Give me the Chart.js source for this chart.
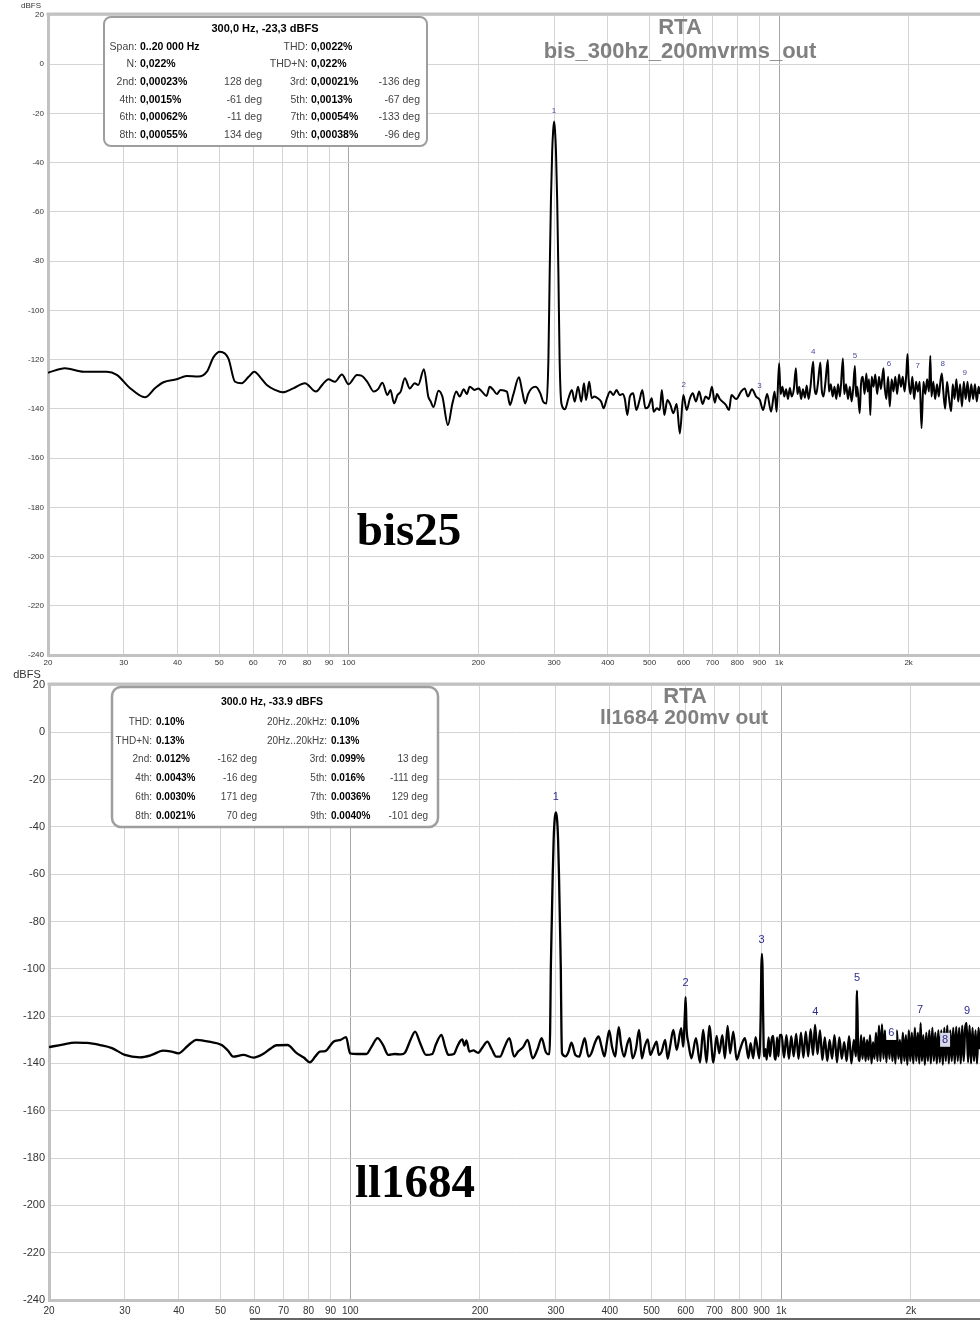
<!DOCTYPE html>
<html>
<head>
<title>RTA bis25 vs ll1684</title>
<script src="https://cdn.jsdelivr.net/npm/chart.js"></script>
<style>
  body { margin: 0; background: #fff; }
  #wrap { position: relative; width: 980px; height: 1322px; overflow: hidden; }
  canvas { position: absolute; left: 0; }
</style>
</head>
<body>
<div id="wrap">
  <canvas id="bisChart" width="980" height="670" style="top:0"></canvas>
  <canvas id="llChart" width="980" height="652" style="top:670px"></canvas>
</div>

<script>
// ---- axis ticks ----
const xTickValues = [20, 30, 40, 50, 60, 70, 80, 90, 100, 200, 300, 400, 500, 600, 700, 800, 900, 1000, 2000];
const xTickLabels = ['20', '30', '40', '50', '60', '70', '80', '90', '100', '200', '300', '400', '500', '600', '700', '800', '900', '1k', '2k'];

// ---- bis25 spectrum (Hz / dBFS) ----
const bisFreqHz = [
  20, 21.9, 24.2, 27.4, 28.9, 31, 33.6, 35.5, 37.1, 39.8, 42, 44.7, 46.8, 48.5, 50.2, 52.5, 54.4, 56.4, 58.5, 60.3,
  62.5, 64.5, 67.4, 70.2, 74.3, 79.1, 83.9, 87, 89.7, 92.9, 96.4, 99.9, 104.5, 107, 110.4, 114.4, 117, 119.7, 123, 125,
  127.4, 129.8, 132, 135, 138.6, 142.3, 145, 149.5, 153, 155, 157.3, 161.6, 165, 170, 174, 177.8, 181, 185, 188, 191,
  196, 200, 204, 209, 212.5, 216.7, 221, 225, 233, 237, 241, 248.6, 253, 257, 261, 266, 272, 278.7, 283, 288,
  291, 293, 295, 297, 298.5, 300, 301.5, 303, 305, 307, 309,
  312, 318, 324, 330, 335, 341, 347, 352, 356, 362, 367, 372, 379, 386, 391, 398, 405, 412, 419, 426,
  433, 438, 444, 450, 458, 466, 474, 481, 489, 497, 506, 511, 520, 528, 534, 541, 550, 559, 568, 578,
  588, 599, 610, 620, 630, 641, 652, 664, 675, 687, 698, 709, 717, 728, 752, 765, 775, 795, 816, 832,
  846, 865, 884, 902, 918, 938, 958, 976, 987,
  1000, 1008, 1018, 1028, 1038, 1049, 1059, 1070, 1082, 1094,
  1103, 1114, 1125, 1136, 1148, 1159, 1171, 1183, 1200, 1208,
  1220, 1232, 1247, 1256, 1268, 1280, 1298, 1306, 1319, 1332,
  1345, 1358, 1371, 1385, 1407, 1417, 1431, 1446, 1460, 1474,
  1486, 1500, 1510, 1520, 1539, 1550, 1565, 1580, 1595, 1606,
  1618, 1629, 1641, 1657, 1673, 1690, 1707, 1724, 1748, 1757,
  1775, 1792, 1808, 1826, 1844, 1862, 1881, 1900, 1919, 1938,
  1957, 1975, 1988, 2000, 2020, 2040, 2060, 2081, 2101, 2122,
  2143, 2165, 2186, 2208, 2230, 2246, 2260, 2282, 2305, 2328,
  2351, 2370, 2389, 2408, 2432, 2456, 2480, 2511, 2532, 2557,
  2582, 2608, 2634, 2660, 2687, 2714, 2741, 2768, 2796, 2824,
  2852, 2880, 2908, 2930
];
const bisLevelDb = [
  -125.3, -123.5, -124.9, -124.9, -126.2, -131.5, -135.3, -131.5, -129.2, -128, -126.7, -126.9, -124.9, -119, -116.8, -119.5, -129, -129.6, -127, -124.9,
  -127.5, -130.3, -132.3, -133.3, -131.7, -129.6, -133, -130, -128, -129, -126, -130, -126.2, -126.5, -129, -133, -132, -129.4, -134.4, -132.3,
  -137.8, -134.4, -133, -127.6, -131.7, -129.6, -130.3, -123.9, -135, -137, -139.3, -132.6, -135, -146.6, -138, -133, -135, -132, -134, -131,
  -132.3, -131.7, -133, -134.8, -131, -132.3, -134, -132.3, -133, -138.4, -134.4, -127.2, -133, -137.8, -134, -131.7, -131, -133.7, -137.1, -137.8,
  -120, -85, -55, -35, -27, -23.3, -27, -35, -55, -85, -120,
  -137.8, -140.2, -135.7, -132.3, -137.1, -131, -137.1, -129.6, -136.4, -129, -135.7, -135, -135.7, -137.1, -139.8, -135.7, -133, -134.4, -132.3, -134.4,
  -134, -136, -142.5, -135, -133.7, -140.5, -136.4, -132.3, -139.8, -139.1, -135.7, -141.2, -139.8, -140.5, -132.3, -142.5, -136.4, -138.4, -141.8, -138,
  -150, -134.4, -140.5, -136, -133.7, -137, -133, -138, -135, -136, -131, -137.5, -134, -136, -138.4, -140.5, -134.4, -136, -133, -131.7,
  -135, -132, -135, -136.4, -140.5, -134, -141.2, -133, -141.2,
  -121.5, -134, -131, -135, -132, -136, -131.5, -135, -132, -123.5,
  -134, -131, -136, -132, -135.5, -130.5, -136, -131, -120.8, -131,
  -134, -129, -121.2, -132, -135, -130, -120.2, -133, -130, -135,
  -131, -136, -130, -135, -119.5, -134, -130, -136, -131, -137,
  -132, -122.6, -135, -131, -141.8, -130, -127, -134, -125.6, -133,
  -128, -142.5, -127, -131, -126, -134, -127, -132, -123.5, -130,
  -136, -127, -139, -128, -133, -127, -134, -126, -131, -127,
  -133, -126, -117.7, -128, -134, -127, -136, -129, -133, -129,
  -147.9, -129, -134, -128, -133, -118.5, -135, -129, -136, -130,
  -135, -129, -125.6, -133, -140, -129, -135, -141, -130, -136,
  -128, -137, -130, -139, -129, -136, -129, -137, -130, -136,
  -130, -137, -131, -134
];

// ---- ll1684 spectrum (Hz / dBFS) ----
const llFreqHz = [
  20, 21.5, 23, 24.5, 26.3, 28, 30, 32.5, 34.5, 36.8, 38.5, 39.9, 42, 44, 45.5, 47, 50.3, 52, 53.5, 56.5,
  59.6, 63, 65, 67.4, 71.5, 75, 78, 80.6, 83, 85, 87.5, 91.4, 95, 97.8, 99.9, 104, 109, 112, 115.7, 119,
  122.6, 127, 131, 134, 138, 141.4, 145, 150, 155, 158, 162.8, 166, 169, 174, 177, 180, 182, 184, 186, 189,
  193, 198, 203, 208, 213, 218, 222.6, 228, 234, 240, 245, 252, 258, 265, 272, 278, 284, 287,
  290, 291, 292, 293.5, 295, 296.5, 298, 300, 302, 303.5, 305, 306.5, 308, 309, 310,
  316, 321, 326, 333, 340, 345, 350, 357, 362, 370, 377, 383, 389, 394, 399, 405, 412, 416, 420, 425,
  432, 439, 445, 452, 460, 468, 475, 482, 490, 497, 504, 514, 520, 528, 538, 545, 552, 562, 572, 586,
  592, 598, 600, 603, 609, 619, 634, 648, 659, 671, 681, 696, 708, 718, 730, 740, 751, 761, 774, 788,
  802, 813, 824, 839, 849, 861, 872, 889, 896, 899, 902, 905, 908, 912, 920, 925, 935, 942, 950, 958,
  965, 971, 978, 985, 993, 1002, 1015, 1028, 1042, 1055, 1069, 1083, 1097, 1111, 1126, 1140, 1155, 1170, 1185, 1198,
  1214, 1230, 1246, 1262, 1279, 1295, 1312, 1329, 1347, 1364, 1382, 1400, 1418, 1437, 1455, 1474, 1490, 1499,
  1508, 1520, 1532, 1544, 1557, 1569, 1582, 1594, 1607, 1620,
  1633, 1646, 1659, 1672, 1686, 1699, 1713, 1727, 1740, 1754,
  1768, 1783, 1797, 1811, 1826, 1840, 1855, 1870, 1885, 1900,
  1915, 1931, 1946, 1962, 1977, 1993, 2009, 2025, 2042, 2058,
  2075, 2091, 2106, 2120, 2137, 2154, 2171, 2189, 2206, 2224,
  2242, 2260, 2278, 2296, 2315, 2333, 2352, 2371, 2390, 2409,
  2428, 2448, 2467, 2487, 2507, 2527, 2547, 2568, 2588, 2609,
  2630, 2651, 2672, 2692, 2713, 2735, 2757, 2779, 2801, 2824,
  2846, 2869, 2892
];
const llLevelDb = [
  -133.1, -132, -131.2, -131.3, -132.2, -133.5, -136.4, -137.4, -136.5, -134.6, -135, -135.7, -132.5, -130, -130.3, -130.8, -132.2, -134.5, -137.1, -136.4,
  -137.5, -135.8, -134, -132.3, -132.2, -135.5, -137.5, -139.5, -137, -135, -134.8, -130.8, -130, -128.9, -135.7, -136, -136, -133, -129.3, -132,
  -136.4, -136, -136.2, -135.4, -130, -126.5, -131, -136.4, -136, -132, -127.9, -133, -136.4, -136, -133, -130.5, -129.8, -132.5, -130.3, -135,
  -134.5, -135.5, -133, -130.8, -134, -137.1, -137.1, -133, -129.3, -137.1, -135, -133, -130, -137.8, -134, -129.3, -135, -136,
  -136, -125, -100, -80, -60, -45, -37, -33.9, -37, -45, -60, -80, -100, -125, -135.7,
  -137, -135, -131.2, -136.4, -137.1, -133, -129.3, -137.1, -136, -131, -128.6, -133, -137, -131, -126.1, -133, -137.1, -130, -124.7, -132,
  -137.1, -132, -129.3, -137.8, -134, -125.8, -137.8, -133, -129.8, -136.4, -134, -130.8, -136.4, -135, -130, -138, -133, -125.8, -134.3, -125.1,
  -132.9, -118, -112, -125, -131.4, -137.8, -129.3, -139.6, -125.8, -139.6, -124.1, -139.6, -128.4, -135.7, -128, -137.8, -124.1, -135.7, -126.5, -138.4,
  -134.3, -131, -129.3, -137.8, -131.4, -137.8, -128.9, -137.8, -120, -100, -93.7, -100, -120, -137, -134, -138.4, -129, -137, -130, -128.4,
  -137, -138.4, -129, -137, -128, -127.9, -137.5, -128, -138, -128.5, -137, -127.5, -138, -127, -137.5, -126.5, -137, -125.5, -136.5, -123.7,
  -136, -126, -138.5, -129, -139, -130, -138, -128, -139.5, -129, -138, -131, -139, -128.5, -140, -130, -137, -109.2,
  -134, -139, -128, -138, -129, -139, -130, -138.5, -128, -140,
  -131, -138, -127, -139, -124, -139, -123.5, -138, -126, -139.5,
  -127, -138, -125, -139, -128, -140, -126, -138, -130, -140,
  -127, -139, -128, -140.5, -126, -139, -127, -140, -125, -139,
  -127, -140, -123, -139, -128, -140.5, -127, -139, -126, -140,
  -125, -139, -127, -140, -126, -139.5, -126, -140.5, -125, -139,
  -124, -140, -126, -139, -125, -140, -124.5, -139, -125, -140,
  -124, -139, -125, -123, -139.5, -124, -140, -125, -139, -126,
  -140, -125, -134
];

// ---- harmonic markers ----
const harmonicFreqs = [300, 600, 900, 1200, 1500, 1800, 2100, 2400, 2700];
const harmonicNames = ['1', '2', '3', '4', '5', '6', '7', '8', '9'];
const bisMarkerDb = [-19, -130.3, -130.7, -116.9, -118.5, -121.8, -122.6, -121.8, -125.4];
const llMarkerDb = [-27.3, -106, -87.8, -118.2, -103.8, -127.1, -117.4, -130, -117.8];

// ---- captions ----
const bisName = 'bis25';
const bisSubtitle = 'bis_300hz_200mvrms_out';
const llName = 'll1684';
const llSubtitle = 'll1684 200mv out';
const rtaTitle = 'RTA';
const unitLabel = 'dBFS';

// ---- distortion readouts ----
const bisInfoTitle = '300,0 Hz, -23,3 dBFS';
const bisInfoRows = [
  ['Span:', '0..20 000 Hz', '', 'THD:', '0,0022%', ''],
  ['N:', '0,022%', '', 'THD+N:', '0,022%', ''],
  ['2nd:', '0,00023%', '128 deg', '3rd:', '0,00021%', '-136 deg'],
  ['4th:', '0,0015%', '-61 deg', '5th:', '0,0013%', '-67 deg'],
  ['6th:', '0,00062%', '-11 deg', '7th:', '0,00054%', '-133 deg'],
  ['8th:', '0,00055%', '134 deg', '9th:', '0,00038%', '-96 deg']
];
const llInfoTitle = '300.0 Hz, -33.9 dBFS';
const llInfoRows = [
  ['THD:', '0.10%', '', '20Hz..20kHz:', '0.10%', ''],
  ['THD+N:', '0.13%', '', '20Hz..20kHz:', '0.13%', ''],
  ['2nd:', '0.012%', '-162 deg', '3rd:', '0.099%', '13 deg'],
  ['4th:', '0.0043%', '-16 deg', '5th:', '0.016%', '-111 deg'],
  ['6th:', '0.0030%', '171 deg', '7th:', '0.0036%', '129 deg'],
  ['8th:', '0.0021%', '70 deg', '9th:', '0.0040%', '-101 deg']
];

const sans = '"Liberation Sans", Arial, sans-serif';
const serif = '"Liberation Serif", "Times New Roman", serif';

function drawInfo(ctx, b) {
  ctx.save();
  ctx.beginPath();
  ctx.roundRect(b.x, b.y, b.w, b.h, b.r);
  ctx.fillStyle = '#fff';
  ctx.fill();
  ctx.lineWidth = b.lw;
  ctx.strokeStyle = '#9e9e9e';
  ctx.stroke();
  ctx.textBaseline = 'middle';
  ctx.textAlign = 'center';
  ctx.fillStyle = '#000';
  ctx.font = 'bold ' + b.titleSize + 'px ' + sans;
  ctx.fillText(b.title, b.titleX, b.titleY);
  b.rows.forEach((row, i) => {
    const y = b.rowY[i];
    [[0, 1, 2, b.c1], [3, 4, 5, b.c2]].forEach(([l, v, d, col]) => {
      ctx.font = b.size + 'px ' + sans;
      ctx.fillStyle = '#444';
      ctx.textAlign = 'right';
      ctx.fillText(row[l], col.label, y);
      if (row[d]) ctx.fillText(row[d], col.deg, y);
      ctx.font = 'bold ' + b.size + 'px ' + sans;
      ctx.fillStyle = '#000';
      ctx.textAlign = 'left';
      ctx.fillText(row[v], col.label + b.gap, y);
    });
  });
  ctx.restore();
}

function overlay(cfg) {
  return {
    id: 'overlay',
    afterDatasetsDraw(chart) {
      const ctx = chart.ctx, xs = chart.scales.x, ys = chart.scales.y, a = chart.chartArea;
      ctx.save();
      // top frame line
      ctx.strokeStyle = '#c2c2c2';
      ctx.lineWidth = 3;
      ctx.beginPath();
      ctx.moveTo(a.left - 1.5, a.top - 1);
      ctx.lineTo(a.right, a.top - 1);
      ctx.stroke();

      // harmonic numbers
      ctx.font = cfg.markSize + 'px ' + sans;
      ctx.textAlign = 'center';
      ctx.textBaseline = 'middle';
      harmonicFreqs.forEach((f, i) => {
        const x = xs.getPixelForValue(f), y = ys.getPixelForValue(cfg.markDb[i]);
        if (cfg.markBg && cfg.markBg[i]) {
          ctx.fillStyle = cfg.markBg[i];
          ctx.fillRect(x - 5, y - 7, 10, 14);
        }
        ctx.fillStyle = cfg.markColor;
        ctx.fillText(harmonicNames[i], x, y);
      });

      // titles
      ctx.fillStyle = '#808080';
      ctx.font = 'bold 22px ' + sans;
      ctx.fillText(rtaTitle, cfg.rtaX, cfg.rtaY);
      ctx.font = 'bold ' + cfg.subSize + 'px ' + sans;
      ctx.fillText(cfg.subtitle, cfg.subX, cfg.subY);

      // big name
      ctx.fillStyle = '#000';
      ctx.font = 'bold 47px ' + serif;
      ctx.fillText(cfg.name, cfg.nameX, cfg.nameY);

      // unit label
      ctx.fillStyle = '#333';
      ctx.font = cfg.unitSize + 'px ' + sans;
      ctx.fillText(unitLabel, cfg.unitX, cfg.unitY);

      drawInfo(ctx, cfg.info);

      if (cfg.footLine) {
        ctx.strokeStyle = '#666';
        ctx.lineWidth = 2;
        ctx.beginPath();
        ctx.moveTo(250, cfg.footLine);
        ctx.lineTo(980, cfg.footLine);
        ctx.stroke();
      }
      ctx.restore();
    }
  };
}

function makeChart(id, freq, level, cfg) {
  return new Chart(document.getElementById(id), {
    type: 'line',
    data: {
      datasets: [{
        data: freq.map((f, i) => ({ x: f, y: level[i] })),
        borderColor: '#000',
        borderWidth: cfg.lineWidth,
        pointRadius: 0,
        cubicInterpolationMode: 'monotone',
        borderJoinStyle: 'round'
      }]
    },
    options: {
      responsive: false,
      animation: false,
      devicePixelRatio: 1,
      layout: { padding: { top: cfg.padTop, left: 0, right: 0, bottom: 0 } },
      plugins: { legend: { display: false }, tooltip: { enabled: false } },
      scales: {
        x: {
          type: 'logarithmic',
          min: 20,
          max: cfg.xMax,
          afterBuildTicks: s => { s.ticks = xTickValues.map(v => ({ value: v })); },
          afterFit: s => { s.height = cfg.xAxisHeight; },
          ticks: {
            autoSkip: false, maxRotation: 0, minRotation: 0,
            padding: cfg.xTickPad, color: '#333',
            font: { family: sans, size: cfg.xTickSize },
            callback: (v, i) => xTickLabels[i]
          },
          grid: {
            drawTicks: false,
            lineWidth: 1,
            color: c => (c.tick && (c.tick.value === 100 || c.tick.value === 1000)) ? '#a6a6a6' : '#d4d4d4'
          },
          border: { color: '#c2c2c2', width: 3 }
        },
        y: {
          min: -240,
          max: 20,
          afterFit: s => { s.width = cfg.yAxisWidth; },
          ticks: {
            stepSize: 20, padding: 4, color: '#333',
            font: { family: sans, size: cfg.yTickSize },
            callback: v => String(v)
          },
          grid: { drawTicks: false, color: '#d4d4d4', lineWidth: 1 },
          border: { color: '#c2c2c2', width: 3 }
        }
      }
    },
    plugins: [overlay(cfg)]
  });
}

makeChart('bisChart', bisFreqHz, bisLevelDb, {
  lineWidth: 2, padTop: 15, xMax: 2930, xAxisHeight: 15, xTickPad: 3, xTickSize: 8,
  yAxisWidth: 48, yTickSize: 8,
  markDb: bisMarkerDb, markSize: 8, markColor: '#4b4b9b',
  rtaX: 680, rtaY: 28, subtitle: bisSubtitle, subSize: 22, subX: 680, subY: 52,
  name: bisName, nameX: 409, nameY: 533,
  unitSize: 8, unitX: 31, unitY: 6,
  info: {
    x: 104, y: 17, w: 323, h: 129, r: 7, lw: 2,
    title: bisInfoTitle, titleSize: 11, titleX: 265, titleY: 29,
    rows: bisInfoRows, rowY: [47, 64, 82, 100, 117, 135], size: 10.5, gap: 3,
    c1: { label: 137, deg: 262 }, c2: { label: 308, deg: 420 }
  }
});

makeChart('llChart', llFreqHz, llLevelDb, {
  lineWidth: 2.3, padTop: 15, xMax: 2892, xAxisHeight: 22, xTickPad: 5, xTickSize: 10,
  yAxisWidth: 49, yTickSize: 11,
  markDb: llMarkerDb, markSize: 11, markColor: '#2c2c90',
  markBg: [null, null, null, null, null, '#ffffff', null, '#d9d9e8', null],
  rtaX: 685, rtaY: 27, subtitle: llSubtitle, subSize: 21, subX: 684, subY: 48,
  name: llName, nameX: 415, nameY: 515,
  unitSize: 11, unitX: 27, unitY: 5,
  footLine: 649,
  info: {
    x: 112, y: 17, w: 326, h: 140, r: 9, lw: 2.5,
    title: llInfoTitle, titleSize: 10.5, titleX: 272, titleY: 32,
    rows: llInfoRows, rowY: [52, 71, 89, 108, 127, 146], size: 10, gap: 4,
    c1: { label: 152, deg: 257 }, c2: { label: 327, deg: 428 }
  }
});
</script>
</body>
</html>
